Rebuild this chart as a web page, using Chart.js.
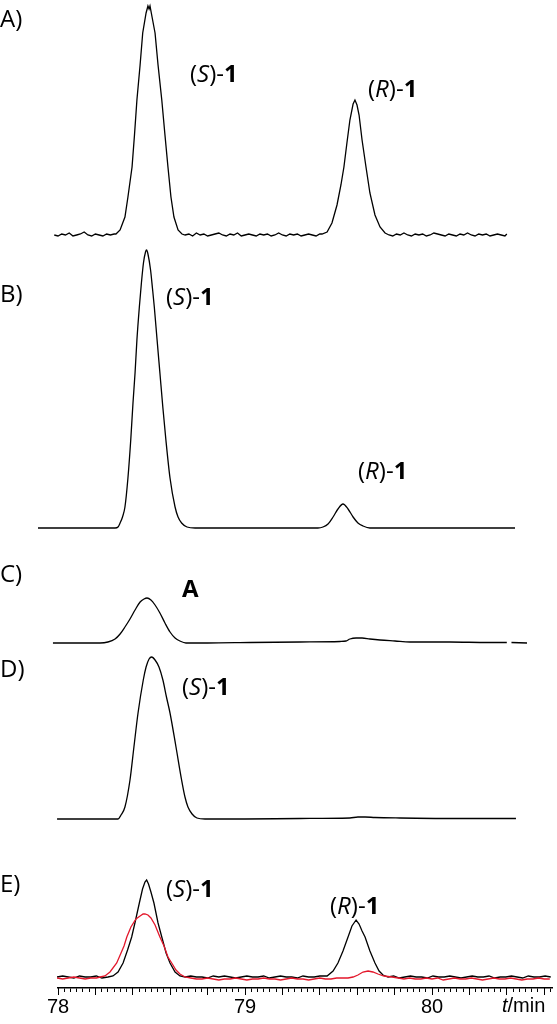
<!DOCTYPE html>
<html>
<head>
<meta charset="utf-8">
<script src="https://cdn.jsdelivr.net/npm/chart.js@4.4.1/dist/chart.umd.min.js"></script>
<style>
  html, body { margin: 0; padding: 0; background: #fff; }
  #wrap { position: relative; width: 557px; height: 1024px; overflow: hidden; }
  canvas { position: absolute; left: 0; }
  .lbl { position: absolute; font-family: "Open Sans", sans-serif; font-size: 24px; line-height: 1; color: #000; white-space: nowrap; }
  .lbl b { font-weight: 700; }
  .tlabel { position: absolute; font-family: "Liberation Sans", Arial, sans-serif; font-size: 20px; line-height: 1; color: #000; }
</style>
</head>
<body>
<div id="wrap">
  <canvas id="chartA" width="557" height="250" style="top:0px"></canvas>
  <canvas id="chartB" width="557" height="300" style="top:240px"></canvas>
  <canvas id="chartC" width="557" height="70" style="top:585px"></canvas>
  <canvas id="chartD" width="557" height="185" style="top:645px"></canvas>
  <canvas id="chartE" width="557" height="174" style="top:850px"></canvas>

  <div class="lbl" style="left:0px; top:6px">A)</div>
  <div class="lbl" style="left:0px; top:281px">B)</div>
  <div class="lbl" style="left:0px; top:561px">C)</div>
  <div class="lbl" style="left:0px; top:656px">D)</div>
  <div class="lbl" style="left:0px; top:871px">E)</div>

  <div class="lbl" style="left:190px; top:61px">(<i>S</i>)-<b>1</b></div>
  <div class="lbl" style="left:368px; top:76px">(<i>R</i>)-<b>1</b></div>
  <div class="lbl" style="left:166px; top:284px">(<i>S</i>)-<b>1</b></div>
  <div class="lbl" style="left:358px; top:458px">(<i>R</i>)-<b>1</b></div>
  <div class="lbl" style="left:182px; top:576px"><b>A</b></div>
  <div class="lbl" style="left:182px; top:674px">(<i>S</i>)-<b>1</b></div>
  <div class="lbl" style="left:166px; top:876px">(<i>S</i>)-<b>1</b></div>
  <div class="lbl" style="left:330px; top:893px">(<i>R</i>)-<b>1</b></div>

  <div class="tlabel" style="left:502px; top:995px"><i>t</i>/min</div>
</div>

<script>
// retention time axis (min)
const tMin = 78;
const tMax = 80.6417;
const tickValues = [78, 79, 80];

// A) racemate, noisy trace
const timeA = [
  77.90, 77.92, 77.94, 77.96, 77.98, 78.00, 78.02, 78.04, 78.06, 78.08, 78.10, 78.12, 78.14, 78.16, 78.18, 78.20, 78.22, 78.24, 78.26, 78.28, 78.30,
  78.310, 78.332, 78.358, 78.374, 78.396, 78.409, 78.422, 78.439, 78.453, 78.471, 78.481, 78.487, 78.492, 78.503, 78.519, 78.535, 78.555, 78.572, 78.588, 78.604, 78.620, 78.642, 78.663,
  78.68, 78.70, 78.72, 78.74, 78.76, 78.78, 78.80, 78.82, 78.84, 78.86, 78.88, 78.90, 78.92, 78.94, 78.96, 78.98, 79.00, 79.02, 79.04, 79.06, 79.08, 79.10, 79.12, 79.14, 79.16, 79.18, 79.20, 79.22, 79.24, 79.26, 79.28, 79.30, 79.32, 79.34, 79.36, 79.38, 79.40,
  79.412, 79.439, 79.465, 79.492, 79.513, 79.529, 79.545, 79.561, 79.578, 79.588, 79.599, 79.610, 79.626, 79.647, 79.668, 79.695, 79.722, 79.749,
  79.77, 79.79, 79.81, 79.83, 79.85, 79.87, 79.89, 79.91, 79.93, 79.95, 79.97, 79.99, 80.01, 80.03, 80.05, 80.07, 80.09, 80.11, 80.13, 80.15, 80.17, 80.19, 80.21, 80.23, 80.25, 80.27, 80.29, 80.31, 80.33, 80.35, 80.37, 80.39, 80.40
];
const signalA = [
  0, 1, -1, 2, 0, -1, 1, 0, 2, -1, 0, 1, 3, 0, -1, 1, 0, -1, 1, 0, 1,
  1, 5, 18, 38, 68, 100, 135, 170, 202, 222, 229, 226, 229, 218, 202, 170, 135, 100, 68, 38, 18, 5, 1,
  0, 1, -1, 2, 0, 1, -1, 0, 1, 2, 0, -1, 1, 0, 2, -1, 0, 1, 0, -1, 1, 0, 1, -1, 0, 2, 0, -1, 1, 0, 1, -1, 0, 1, 0, -1, 1,
  1, 3, 12, 30, 50, 68, 92, 115, 131, 135, 130, 120, 95, 68, 42, 20, 8, 2,
  0, -1, 1, 0, 2, 0, -1, 1, 0, 1, -1, 0, 2, 1, 0, -1, 1, 0, -1, 1, 0, 2, 0, -1, 1, 0, 1, -1, 0, 1, 0, -1, 1
];

// B)
const timeB = [
  77.893, 78.05, 78.20, 78.305, 78.321, 78.332, 78.345, 78.358, 78.374, 78.389,
  78.401, 78.412, 78.422, 78.435, 78.446, 78.457, 78.468, 78.474, 78.481, 78.495,
  78.505, 78.515, 78.529, 78.545, 78.561, 78.577, 78.599, 78.626, 78.642, 78.661,
  78.690, 78.733, 78.90, 79.10, 79.30, 79.390, 79.417, 79.444, 79.471, 79.497,
  79.524, 79.551, 79.578, 79.604, 79.631, 79.668, 79.80, 80.00, 80.20, 80.444
];
const signalB = [
  0, 0, 0, 0, 1, 5, 11, 21, 50, 88,
  125, 155, 188, 221, 245, 265, 276, 278, 274, 258,
  240, 221, 190, 155, 120, 88, 50, 21, 11, 5,
  1, 0, 0, 0, 0, 0, 1, 4, 11, 19,
  24, 19, 11, 5, 2, 0, 0, 0, 0, 0
];

// C)
const timeC = [
  77.973, 78.10, 78.225, 78.267, 78.305, 78.332, 78.358, 78.385, 78.412, 78.439,
  78.460, 78.476, 78.497, 78.519, 78.545, 78.572, 78.599, 78.626, 78.652, 78.684,
  78.80, 79.027, 79.294, 79.508, 79.540, 79.561, 79.594, 79.626, 79.668, 79.722,
  79.802, 79.882, 80.096, 80.30, 80.400, 80.412, 80.425, 80.508
];
const signalC = [
  0, 0, 0, 1, 4, 9, 16, 24, 33, 41,
  44, 45, 43, 38, 30, 20, 11, 5, 2, 0,
  0, 0.5, 1, 1.5, 2, 4, 5, 5, 4, 3,
  2, 1, 1, 0.5, 0.5, null, 0.5, 0
];

// D)
const timeD = [
  77.995, 78.15, 78.278, 78.321, 78.337, 78.358, 78.385, 78.406, 78.428, 78.456,
  78.471, 78.487, 78.501, 78.519, 78.540, 78.561, 78.580, 78.599, 78.631, 78.661,
  78.679, 78.695, 78.717, 78.743, 78.786, 79.00, 79.294, 79.561, 79.604, 79.642,
  79.695, 79.829, 80.096, 80.449
];
const signalD = [
  0, 0, 0, 0, 4, 12, 39, 72, 106, 139,
  152, 160, 162, 159, 152, 139, 122, 106, 72, 39,
  22, 12, 5, 1, 0, 0, 0.5, 1, 2, 2,
  1.5, 1, 0.5, 0.5
];

// E) black trace
const timeE1 = [
  77.995, 78.025, 78.055, 78.085, 78.115, 78.145, 78.175, 78.205, 78.235,
  78.267, 78.294, 78.321, 78.348, 78.372, 78.394, 78.415, 78.435, 78.452, 78.465, 78.474, 78.484, 78.497, 78.513, 78.535, 78.555, 78.578, 78.599, 78.626, 78.652,
  78.68, 78.71, 78.74, 78.77, 78.80, 78.83, 78.86, 78.89, 78.92, 78.95, 78.98, 79.01, 79.04, 79.07, 79.10, 79.13, 79.16, 79.19, 79.22, 79.25, 79.28, 79.31, 79.34, 79.37, 79.40,
  79.439, 79.471, 79.497, 79.524, 79.551, 79.572, 79.594, 79.610, 79.626, 79.642, 79.668, 79.695, 79.717, 79.738,
  79.765, 79.795, 79.825, 79.855, 79.885, 79.915, 79.945, 79.975, 80.005, 80.035, 80.065, 80.095, 80.125, 80.155, 80.185, 80.215, 80.245, 80.275, 80.305, 80.335, 80.365, 80.395, 80.425, 80.455, 80.485, 80.515, 80.545, 80.575, 80.605, 80.635
];
const signalE1 = [
  1, 2, 1, 0, 2, 1, 1, 2, 0,
  1, 2, 6, 15, 28, 41, 58, 75, 89, 96, 98, 94, 86, 75, 55, 41, 25, 15, 6, 2,
  1, 2, 1, 1, 0, 2, 1, 2, 1, 0, 1, 2, 1, 1, 2, 0, 1, 2, 1, 1, 0, 2, 1, 1, 2,
  2, 7, 15, 27, 41, 52, 58, 54, 47, 41, 27, 15, 7, 3,
  1, 2, 0, 1, 2, 1, 1, 0, 2, 1, 1, 2, 1, 0, 1, 2, 1, 1, 2, 0, 1, 1, 2, 1, 0, 2, 1, 1, 2, 1
];

// E) red trace
const timeE2 = [
  77.995, 78.025, 78.055, 78.085, 78.115, 78.145, 78.175, 78.205,
  78.225, 78.251, 78.278, 78.314, 78.337, 78.353, 78.368, 78.390, 78.417, 78.439, 78.455, 78.465, 78.481, 78.497, 78.519, 78.545, 78.567, 78.588, 78.608, 78.631, 78.652, 78.679,
  78.71, 78.74, 78.77, 78.80, 78.83, 78.86, 78.89, 78.92, 78.95, 78.98, 79.01, 79.04, 79.07, 79.10, 79.13, 79.16, 79.19, 79.22, 79.25, 79.28, 79.31, 79.34, 79.37, 79.40, 79.43, 79.46, 79.49, 79.52,
  79.551, 79.578, 79.604, 79.631, 79.658, 79.684, 79.711, 79.743, 79.786,
  79.82, 79.85, 79.88, 79.91, 79.94, 79.97, 80.00, 80.03, 80.06, 80.09, 80.12, 80.15, 80.18, 80.21, 80.24, 80.27, 80.30, 80.33, 80.36, 80.39, 80.42, 80.45, 80.48, 80.51, 80.54, 80.57, 80.60, 80.63
];
const signalE2 = [
  0, -1, 0, 1, 0, -1, 0, 0,
  1, 2, 6, 15, 25, 32, 41, 51, 59, 62, 64, 64, 63, 60, 53, 41, 32, 21, 15, 8, 4, 1,
  0, -1, -1, 0, -1, -2, -1, -1, 0, -1, -2, -1, -1, 0, -1, -1, -2, -1, 0, -1, -1, -2, -1, 0, -1, -1, 0, 0,
  0, 1, 3, 6, 7, 6, 4, 2, 1,
  0, -1, 0, -1, -1, 0, -1, 0, -2, -1, 0, -1, -1, 0, -1, -2, -1, 0, -1, -1, 0, -1, -2, -1, -1, 0, -1, -1
];

const pts = (ts, vs) => ts.map((t, i) => ({ x: t, y: vs[i] }));

function trace(ts, vs, color, noisy) {
  return {
    data: pts(ts, vs),
    borderColor: color,
    borderWidth: 1.3,
    pointRadius: 0,
    tension: 0,
    cubicInterpolationMode: noisy ? "default" : "monotone",
    spanGaps: false,
    clip: false
  };
}

// baselineY / areaBottom: canvas px of the zero line and of the plot bottom
function makeChart(id, datasets, baselineY, areaBottom, withAxis) {
  const canvas = document.getElementById(id);
  const scales = {
    x: { type: "linear", min: tMin, max: tMax, display: false },
    y: { min: -(areaBottom - baselineY), max: baselineY, display: false }
  };
  if (withAxis) {
    scales.x = {
      type: "linear", min: tMin, max: tMax,
      grid: { drawOnChartArea: false, drawTicks: true, tickLength: 4, tickColor: "#000", tickWidth: 1 },
      border: { display: true, color: "#000", width: 1.5 },
      ticks: {
        stepSize: 1 / 30, autoSkip: false, includeBounds: false, maxRotation: 0, padding: 3,
        color: "#000", font: { family: "Liberation Sans", size: 20 },
        callback: v => {
          const hit = tickValues.find(t => Math.abs(t - v) < 1e-6);
          return hit !== undefined ? String(hit) : "";
        }
      },
      afterFit: s => { s.height = 36; }
    };
    scales.x2 = {
      type: "linear", min: tMin, max: tMax, position: "bottom", weight: -1,
      grid: { drawOnChartArea: false, drawTicks: true, tickLength: 7, tickColor: "#000", tickWidth: 1 },
      border: { display: false },
      ticks: { stepSize: 0.2, display: false, autoSkip: false, includeBounds: false },
      afterFit: s => { s.height = 0; }
    };
  }
  return new Chart(canvas.getContext("2d"), {
    type: "line",
    data: { datasets: datasets },
    options: {
      responsive: false,
      animation: false,
      devicePixelRatio: 1,
      layout: { padding: { left: 58, right: 5, top: 0, bottom: 0 } },
      plugins: { legend: { display: false }, tooltip: { enabled: false } },
      scales: scales
    }
  });
}

makeChart("chartA", [trace(timeA, signalA, "#000", true)], 235, 250, false);
makeChart("chartB", [trace(timeB, signalB, "#000", false)], 288, 300, false);
makeChart("chartC", [trace(timeC, signalC, "#000", false)], 58, 70, false);
makeChart("chartD", [trace(timeD, signalD, "#000", false)], 174, 185, false);
makeChart("chartE", [trace(timeE2, signalE2, "#e3172b", true), trace(timeE1, signalE1, "#000", true)], 128, 138, true);
</script>
</body>
</html>
